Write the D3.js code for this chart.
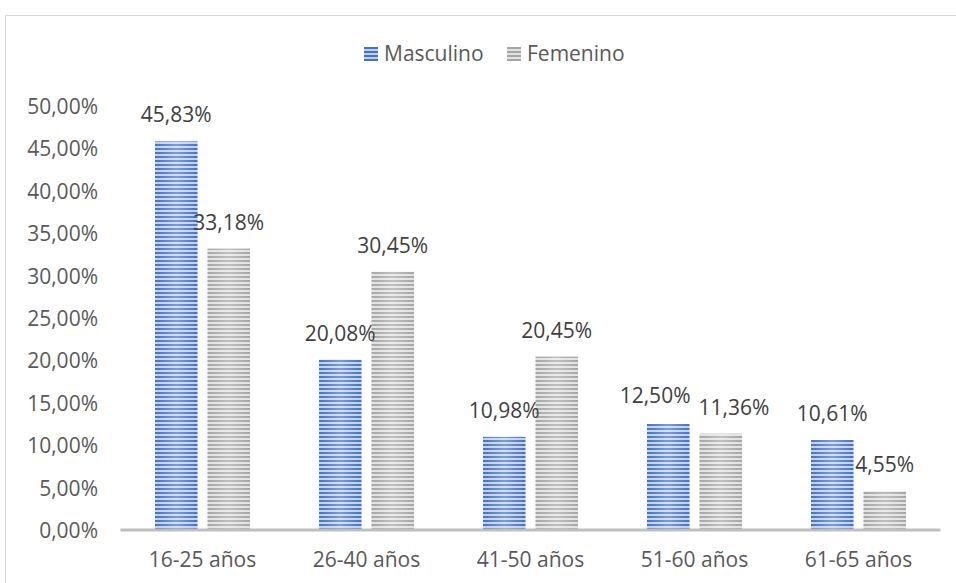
<!DOCTYPE html>
<meta charset="utf-8">
<style>
html, body { margin: 0; padding: 0; background: #fff; }
text { font-family: "Open Sans", sans-serif; }
.tick text { fill: #595959; font-size: 21px; }
.val { fill: #404040; font-size: 21px; text-anchor: middle; }
.cat { fill: #595959; font-size: 21px; text-anchor: middle; }
.leg { fill: #595959; font-size: 21px; }
</style>
<body><svg width="956" height="583"></svg></body>
<script src="https://d3js.org/d3.v7.min.js"></script>
<script>

var categories = ["16-25 años", "26-40 años", "41-50 años", "51-60 años", "61-65 años"];
var series = ["Masculino", "Femenino"];
var masculino = [45.83, 20.08, 10.98, 12.50, 10.61];
var femenino = [33.18, 30.45, 20.45, 11.36, 4.55];
var yTicks = [0, 5, 10, 15, 20, 25, 30, 35, 40, 45, 50];

var svg = d3.select("svg");

var fmt = function(v) { return v.toFixed(2).replace(".", ",") + "%"; };

// chart area border (runs past the right and bottom edge)
svg.append("rect")
    .attr("x", 5.5).attr("y", 15.5)
    .attr("width", 1000).attr("height", 700)
    .attr("fill", "#fff")
    .attr("stroke", "#d9d9d9");

// striped patterns
var defs = svg.append("defs");
function stripes(id, dark, light) {
  var p = defs.append("pattern")
      .attr("id", id)
      .attr("patternUnits", "userSpaceOnUse")
      .attr("width", 8).attr("height", 4);
  p.append("rect").attr("width", 8).attr("height", 4).attr("fill", light);
  p.append("rect").attr("y", 0).attr("width", 8).attr("height", 2).attr("fill", dark);
}
stripes("stripeM", "#4472c4", "#c0d0ee");
stripes("stripeF", "#a5a5a5", "#e2e2e2");

var shine = defs.append("linearGradient").attr("id", "shine");
shine.append("stop").attr("offset", "0%").attr("stop-color", "#fff").attr("stop-opacity", 0);
shine.append("stop").attr("offset", "50%").attr("stop-color", "#fff").attr("stop-opacity", 0.3);
shine.append("stop").attr("offset", "100%").attr("stop-color", "#fff").attr("stop-opacity", 0);

var x = d3.scaleBand().domain(categories).range([120.5, 940.5]);
var xs = d3.scaleBand().domain(series).range([0, 95]).paddingInner(0.19);
var y = d3.scaleLinear().domain([0, 50]).range([530, 106]);

// y axis labels
var yAxis = svg.append("g")
    .attr("transform", "translate(98,0)")
    .call(d3.axisLeft(y).tickValues(yTicks).tickSize(0).tickPadding(0)
      .tickFormat(function(d) { return fmt(d); }));
yAxis.select(".domain").remove();
yAxis.selectAll(".tick text").attr("dy", "0.36em");

var data = series.map(function(s, i) {
  return { name: s, values: i === 0 ? masculino : femenino, fill: i === 0 ? "url(#stripeM)" : "url(#stripeF)" };
});

var groups = svg.selectAll(".grp")
    .data(categories)
  .enter().append("g")
    .attr("class", "grp")
    .attr("transform", function(d) { return "translate(" + (x(d) + (x.bandwidth() - 95) / 2) + ",0)"; });

data.forEach(function(s) {
  groups.append("rect")
      .attr("x", xs(s.name))
      .attr("y", function(d, i) { return y(s.values[i]); })
      .attr("width", xs.bandwidth())
      .attr("height", function(d, i) { return y(0) - y(s.values[i]); })
      .attr("fill", s.fill);
  groups.append("rect")
      .attr("x", xs(s.name))
      .attr("y", function(d, i) { return y(s.values[i]); })
      .attr("width", xs.bandwidth())
      .attr("height", function(d, i) { return y(0) - y(s.values[i]); })
      .attr("fill", "url(#shine)");
});

// x axis line
svg.append("line")
    .attr("x1", x.range()[0]).attr("x2", x.range()[1])
    .attr("y1", y(0)).attr("y2", y(0))
    .attr("stroke", "#bfbfbf")
    .attr("stroke-width", 3);

// data labels
data.forEach(function(s, k) {
  groups.append("text")
      .attr("class", "val lab" + k)
      .attr("x", xs(s.name) + xs.bandwidth() / 2)
      .attr("y", function(d, i) { return y(s.values[i]) - 19; })
      .text(function(d, i) { return fmt(s.values[i]); });
});

// push apart the two labels of a group when they collide
groups.each(function() {
  var g = d3.select(this),
      a = g.select(".lab0"), b = g.select(".lab1");
  var ya = +a.attr("y"), yb = +b.attr("y");
  if (Math.abs(ya - yb) > 22) return;
  var wa = a.node().getComputedTextLength(), wb = b.node().getComputedTextLength();
  var overlap = (+a.attr("x") + wa / 2) - (+b.attr("x") - wb / 2) + 8;
  if (overlap > 0) {
    a.attr("x", +a.attr("x") - overlap / 2).attr("y", ya - 2);
    b.attr("x", +b.attr("x") + overlap / 2);
  }
});

// category labels
svg.selectAll(".cat")
    .data(categories)
  .enter().append("text")
    .attr("class", "cat")
    .attr("x", function(d) { return x(d) + x.bandwidth() / 2; })
    .attr("y", 567)
    .text(function(d) { return d; });

// legend
var legX = [364, 507];
var leg = svg.selectAll(".legitem")
    .data(data)
  .enter().append("g")
    .attr("class", "legitem")
    .attr("transform", function(d, i) { return "translate(" + legX[i] + ",47)"; });
leg.append("rect").attr("width", 14).attr("height", 14).attr("fill", function(d) { return d.fill; });
leg.append("text").attr("class", "leg").attr("x", 20).attr("y", 14).text(function(d) { return d.name; });

</script>
